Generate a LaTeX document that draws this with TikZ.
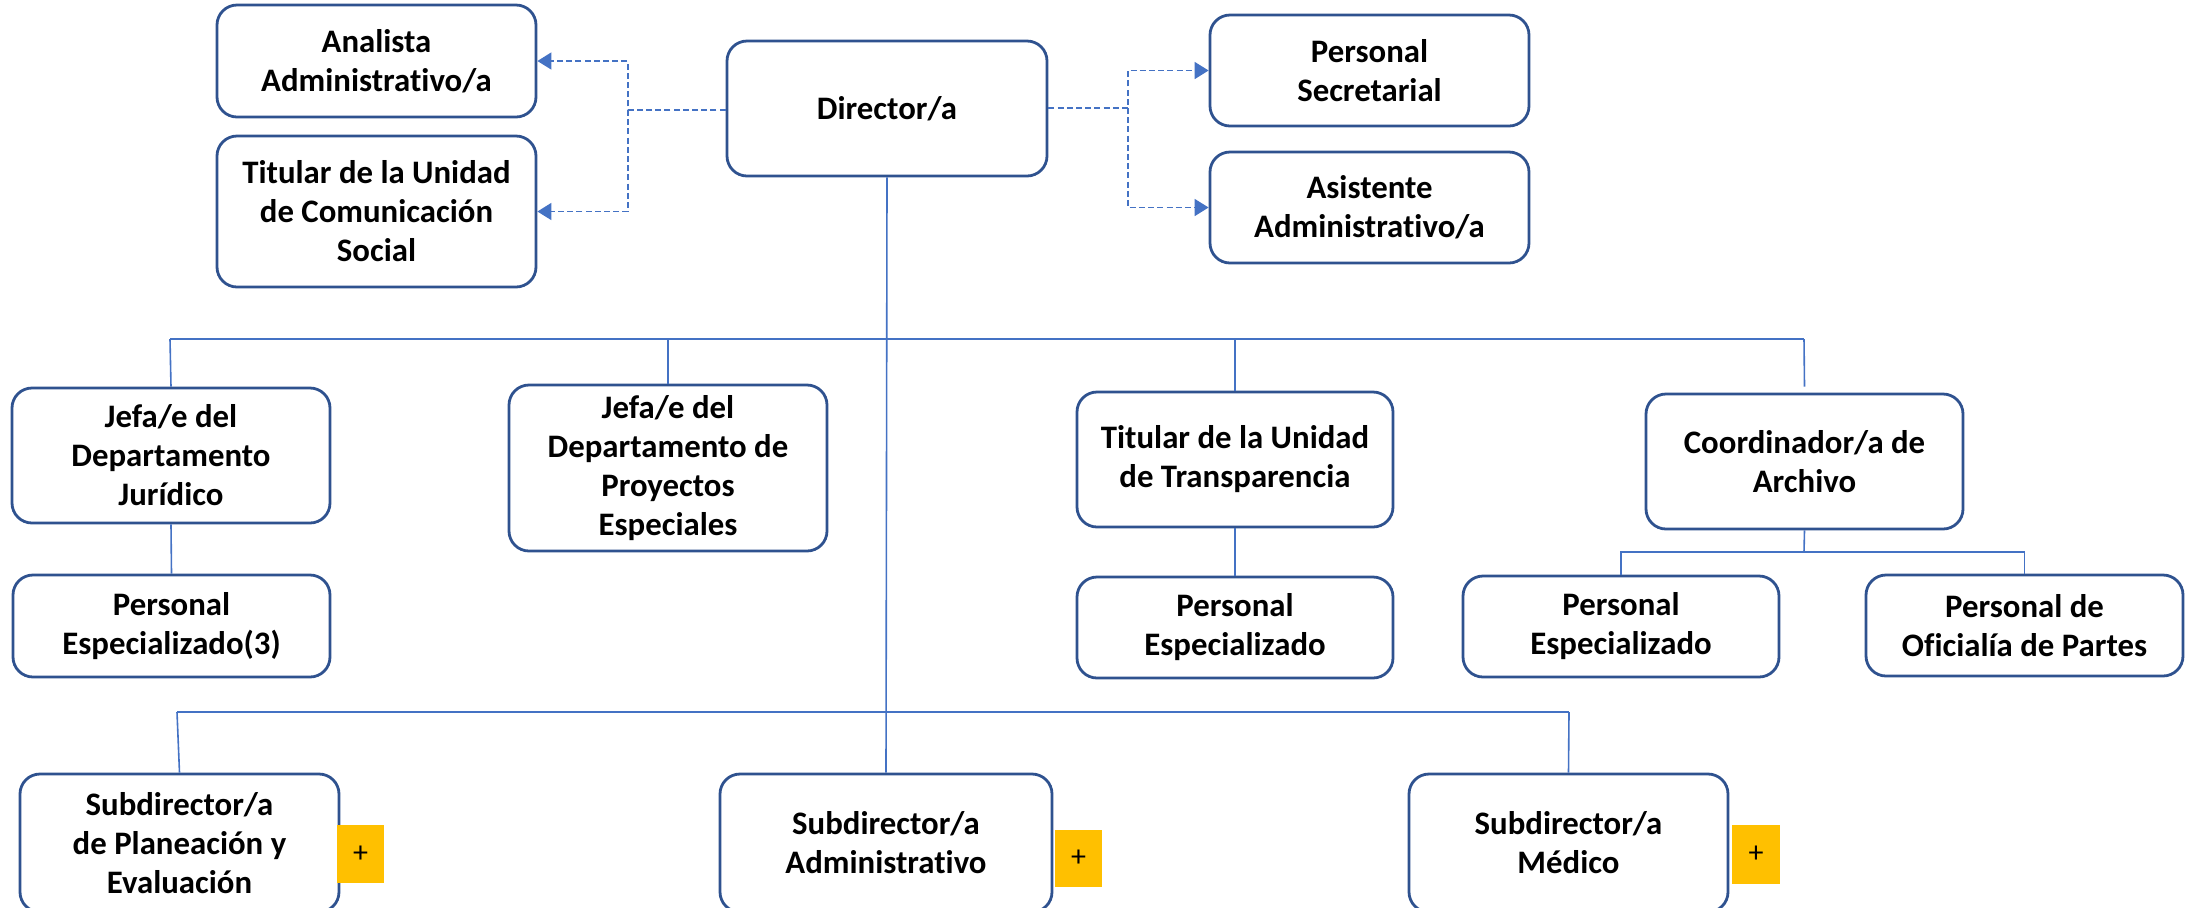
\documentclass[tikz,border=0pt]{standalone}
\usepackage{fontspec}
\setmainfont{Carlito}[Ligatures=NoCommon]
\usetikzlibrary{arrows.meta}
\definecolor{boxblue}{HTML}{2F528F}
\definecolor{lineblue}{HTML}{4472C4}
\definecolor{plusyellow}{HTML}{FFC000}
\tikzset{
  box/.style={draw=boxblue, line width=1.4pt, rounded corners=10pt, fill=white, align=center,
    font=\bfseries\fontsize{16.4}{19.5}\selectfont, inner sep=0pt},
  conn/.style={draw=lineblue, line width=0.8pt},
  dashconn/.style={draw=lineblue, line width=0.8pt, dash pattern=on 3pt off 1.6pt,
    -{Triangle[length=7pt,width=8.5pt]}},
  plusbox/.style={fill=plusyellow, inner sep=0pt, font=\fontsize{15}{17}\selectfont}
}
\newcommand{\orgbox}[6]{%
  \node[box, minimum width={(#4-#2)*0.5pt}, minimum height={(#5-#3)*0.5pt}]
    (#1) at ({(#2+#4)/2},{(#3+#5)/2}) {#6};}
\newcommand{\plusmark}[5]{%
  \node[plusbox, minimum width={(#4-#2)*0.5pt}, minimum height={(#5-#3)*0.5pt}]
    (#1) at ({(#2+#4)/2},{(#3+#5)/2}) {+};}
\begin{document}
\begin{tikzpicture}[x=0.5pt, y=-0.5pt]
\useasboundingbox (0,0) rectangle (2185,907);
\clip (0,0) rectangle (2185,907);
% boxes
\orgbox{dir}{727}{41}{1047}{176}{Director/a}
\orgbox{ana}{217}{5}{536}{117}{Analista\\Administrativo/a}
\orgbox{tcs}{217}{136}{536}{287}{Titular de la Unidad\\de Comunicación\\Social}
\orgbox{sec}{1210}{15}{1529}{126}{Personal\\Secretarial}
\orgbox{asi}{1210}{152}{1529}{263}{Asistente\\Administrativo/a}
\orgbox{jur}{12}{388}{330}{523}{Jefa/e del\\Departamento\\Jurídico}
\orgbox{pej}{13}{575}{330}{677}{Personal\\Especializado(3)}
\orgbox{pro}{509}{385}{827}{551}{Jefa/e del\\Departamento de\\Proyectos\\Especiales}
\orgbox{tra}{1077}{392}{1393}{527}{Titular de la Unidad\\de Transparencia}
\orgbox{pet}{1077}{577}{1393}{678}{Personal\\Especializado}
\orgbox{coo}{1646}{394}{1963}{529}{Coordinador/a de\\Archivo}
\orgbox{pea}{1463}{576}{1779}{677}{Personal\\Especializado}
\orgbox{ofi}{1866}{575}{2183}{676}{Personal de\\Oficialía de Partes}
\orgbox{spl}{20}{774}{339}{912}{Subdirector/a\\de Planeación y\\Evaluación}
\orgbox{sad}{720}{774}{1052}{912}{Subdirector/a\\Administrativo}
\orgbox{smd}{1409}{774}{1728}{912}{Subdirector/a\\Médico}
\plusmark{p1}{337}{825}{384}{883}
\plusmark{p2}{1055}{830}{1102}{887}
\plusmark{p3}{1732}{825}{1780}{884}
% dashed staff lines
\coordinate (dl) at (628,110);
\coordinate (dr) at (1128,108);
\draw[dashconn] (dir.west |- dl) -- (dl) |- (ana.east);
\draw[dashconn] (dl) |- (tcs.east);
\draw[dashconn] (dir.east |- dr) -- (dr) |- (sec.west);
\draw[dashconn] (dr) |- (asi.west);
% solid hierarchy
\coordinate (bus1l) at (170,339);
\coordinate (bus1r) at (1804,339);
\coordinate (bus2l) at (177,712);
\coordinate (bus2r) at (1569,712);
\coordinate (bus3) at (1804,552);
\draw[conn] (dir.south) -- (sad.north);
\draw[conn] (bus1l) -- (bus1r);
\draw[conn] (bus1l) -- (jur.north);
\draw[conn] (pro.north |- bus1l) -- (pro.north);
\draw[conn] (tra.north |- bus1l) -- (tra.north);
\draw[conn] (bus1r) -- ([yshift=3pt]coo.north);
\draw[conn] (jur.south) -- (pej.north);
\draw[conn] (tra.south) -- (pet.north);
\draw[conn] (coo.south) -- (bus3);
\draw[conn] (pea.north) |- (bus3) -| (ofi.north);
\draw[conn] (bus2l) -- (bus2r);
\draw[conn] (bus2l) -- (spl.north);
\draw[conn] (bus2r) -- (smd.north);
\end{tikzpicture}
\end{document}
